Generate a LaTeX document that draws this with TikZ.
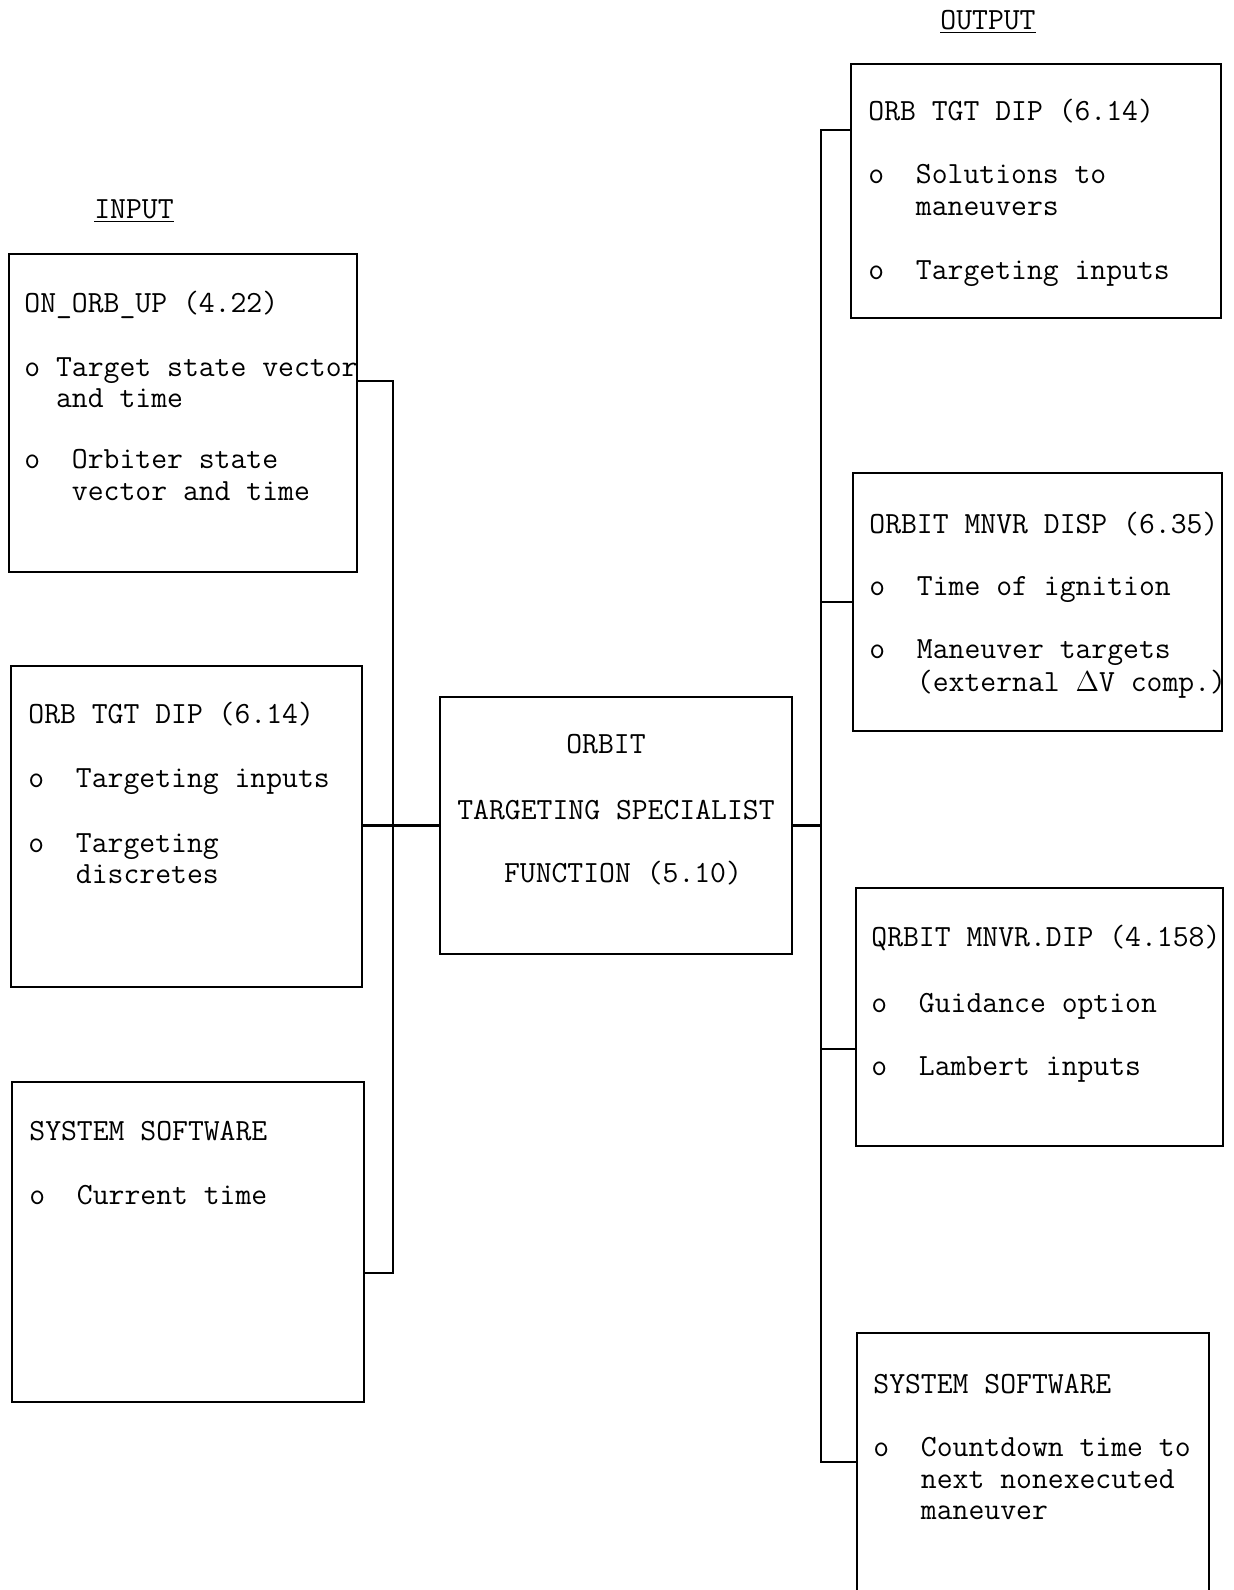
\documentclass[tikz,border=0pt]{standalone}
\usetikzlibrary{fit}
\newcommand\typw{\ttfamily\fontsize{15.4}{18}\selectfont}
\begin{document}
\begin{tikzpicture}[x=0.5pt, y=-0.5pt,
    box/.style={draw, line width=1.4pt, inner sep=0pt},
    wire/.style={line width=1.4pt},
    txt/.style={font=\typw, anchor=mid west, inner sep=0pt, yshift=-2.5pt},
    head/.style={font=\typw, anchor=mid, inner sep=0pt, yshift=-2.5pt}]
    \useasboundingbox (0,0) rectangle (1234,1590);
    \clip (0,0) rectangle (1234,1590);
    % headings
    \node[head] (input) at (134,209) {\underline{INPUT}};
    \node[head] (output) at (988,20) {\underline{OUTPUT}};
    % input boxes
    \node[box, fit={(9,254) (357,572)}] (onorb) {};
    \node[txt] (onorb-1) at (24,303) {ON\_ORB\_UP (4.22)};
    \node[txt] (onorb-2) at (24,367) {o Target state vector};
    \node[txt] (onorb-3) at (24,398) {~~and time};
    \node[txt] (onorb-4) at (24,459) {o~~Orbiter state};
    \node[txt] (onorb-5) at (24,491) {~~~vector and time};
    \node[box, fit={(11,666) (362,987)}] (tgtdip) {};
    \node[txt] (tgtdip-1) at (28,714) {ORB TGT DIP (6.14)};
    \node[txt] (tgtdip-2) at (28,778) {o~~Targeting inputs};
    \node[txt] (tgtdip-3) at (28,843) {o~~Targeting};
    \node[txt] (tgtdip-4) at (28,874) {~~~discretes};
    \node[box, fit={(12,1082) (364,1402)}] (syssw) {};
    \node[txt] (syssw-1) at (29,1131) {SYSTEM SOFTWARE};
    \node[txt] (syssw-2) at (29,1195) {o~~Current time};
    % function
    \node[box, fit={(440,697) (792,954)}] (otsf) {};
    \node[head] (otsf-1) at (606,744) {ORBIT};
    \node[head] (otsf-2) at (616,810) {TARGETING SPECIALIST};
    \node[head] (otsf-3) at (623,873) {FUNCTION (5.10)};
    % output boxes
    \node[box, fit={(851,64) (1221,318)}] (orbtgt) {};
    \node[txt] (orbtgt-1) at (868,111) {ORB TGT DIP (6.14)};
    \node[txt] (orbtgt-2) at (868,174) {o~~Solutions to};
    \node[txt] (orbtgt-3) at (868,206) {~~~maneuvers};
    \node[txt] (orbtgt-4) at (868,270) {o~~Targeting inputs};
    \node[box, fit={(853,473) (1222,731)}] (disp) {};
    \node[txt] (disp-1) at (869,524) {ORBIT MNVR DISP (6.35)};
    \node[txt] (disp-2) at (869,586) {o~~Time of ignition};
    \node[txt] (disp-3) at (869,649) {o~~Maneuver targets};
    \node[txt] (disp-4) at (869,682) {~~~(external $\Delta$V comp.)};
    \node[box, fit={(856,888) (1223,1146)}] (mnvrdip) {};
    \node[txt] (mnvrdip-1) at (871,937) {QRBIT MNVR.DIP (4.158)};
    \node[txt] (mnvrdip-2) at (871,1003) {o~~Guidance option};
    \node[txt] (mnvrdip-3) at (871,1066) {o~~Lambert inputs};
    \node[box, fit={(857,1333) (1209,1640)}] (countsw) {};
    \node[txt] (countsw-1) at (873,1384) {SYSTEM SOFTWARE};
    \node[txt] (countsw-2) at (873,1447) {o~~Countdown time to};
    \node[txt] (countsw-3) at (873,1479) {~~~next nonexecuted};
    \node[txt] (countsw-4) at (873,1510) {~~~maneuver};
    % busses
    \coordinate (inbus-top) at (393,381);
    \coordinate (inbus-bot) at (393,1273);
    \coordinate (outbus-top) at (821,130);
    \coordinate (outbus-bot) at (821,1462);
    \coordinate (mnvrj) at (821,1049);
    \draw[wire] (onorb.east |- inbus-top) -- (inbus-top) -- (inbus-bot) -- (syssw.east |- inbus-bot);
    \draw[wire] (tgtdip.east |- otsf.west) -- (otsf.west);
    \draw[wire] (otsf.east) -- (otsf.east -| outbus-top);
    \draw[wire] (orbtgt.west |- outbus-top) -- (outbus-top) -- (outbus-bot) -- (countsw.west |- outbus-bot);
    \draw[wire] (outbus-top |- disp.west) -- (disp.west);
    \draw[wire] (mnvrj) -- (mnvrdip.west |- mnvrj);
\end{tikzpicture}
\end{document}
